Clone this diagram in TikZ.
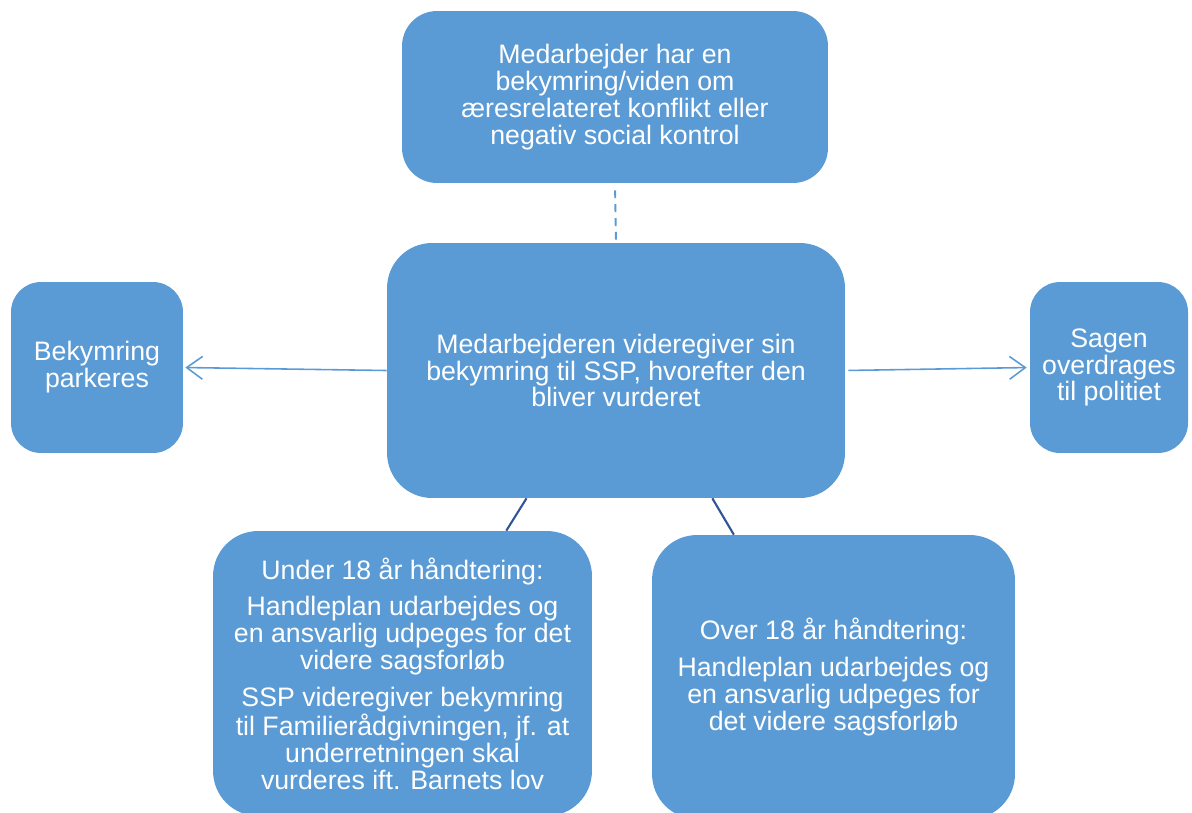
\documentclass[tikz,border=0pt]{standalone}
\usepackage{fontspec}
\setmainfont{Liberation Sans}
\usetikzlibrary{arrows.meta}
\definecolor{boxblue}{RGB}{91,155,213}
\definecolor{linkblue}{RGB}{47,85,151}

\begin{document}
\begin{tikzpicture}[x=0.02cm, y=-0.02cm,
    box/.style={fill=boxblue, text=white, align=center, rounded corners=0.7cm,
        inner sep=2pt, font=\fontsize{15.2}{15.3}\selectfont},
    branch/.style={draw=boxblue, line width=0.9pt, -{Straight Barb[length=9pt, width=13pt, line width=0.9pt]}},
    link/.style={draw=linkblue, line width=1.2pt}]
    \clip (0,0) rectangle (1192,812);

    \node[box, minimum width=8.52cm, minimum height=3.44cm] (top) at (615,97)
        {Medarbejder har en\\bekymring/viden om\\æresrelateret konflikt eller\\negativ social kontrol};
    \node[box, minimum width=9.16cm, minimum height=5.1cm, rounded corners=0.9cm] (mid) at (616,370.5)
        {Medarbejderen videregiver sin\\bekymring til SSP, hvorefter den\\bliver vurderet};
    \node[box, minimum width=3.44cm, minimum height=3.42cm, rounded corners=0.6cm] (park) at (97,367.5)
        {Bekymring\\parkeres};
    \node[box, minimum width=3.16cm, minimum height=3.42cm, rounded corners=0.6cm] (police) at (1109,367.5)
        {Sagen\\overdrages\\til politiet};
    \node[box, minimum width=7.58cm, minimum height=5.7cm, rounded corners=0.9cm] (under) at (402.5,673.5)
        {Under 18 år håndtering:\\[5.7pt]
         Handleplan udarbejdes og\\en ansvarlig udpeges for det\\videre sagsforløb\\[5.7pt]
         SSP videregiver bekymring\\til Familierådgivningen, jf. at\\underretningen skal\\vurderes ift. Barnets lov};
    \node[box, minimum width=7.26cm, minimum height=5.68cm, rounded corners=0.9cm] (over) at (833.5,677)
        {Over 18 år håndtering:\\[5.7pt]
         Handleplan udarbejdes og\\en ansvarlig udpeges for\\det videre sagsforløb};

    \draw[boxblue, line width=1.1pt, dash pattern=on 4.5pt off 3.4pt,
        shorten <=0.14cm, shorten >=0.06cm] (top.south) -- (mid.north);
    \draw[branch, shorten >=0.04cm] (mid.west) -- (park.east);
    \draw[branch, shorten <=0.06cm, shorten >=0.06cm] (mid.east) -- (police.west);
    \draw[link] (mid.-125.8) -- (under.54.3);
    \draw[link] (mid.-53.9) -- (over.125.8);
\end{tikzpicture}
\end{document}
